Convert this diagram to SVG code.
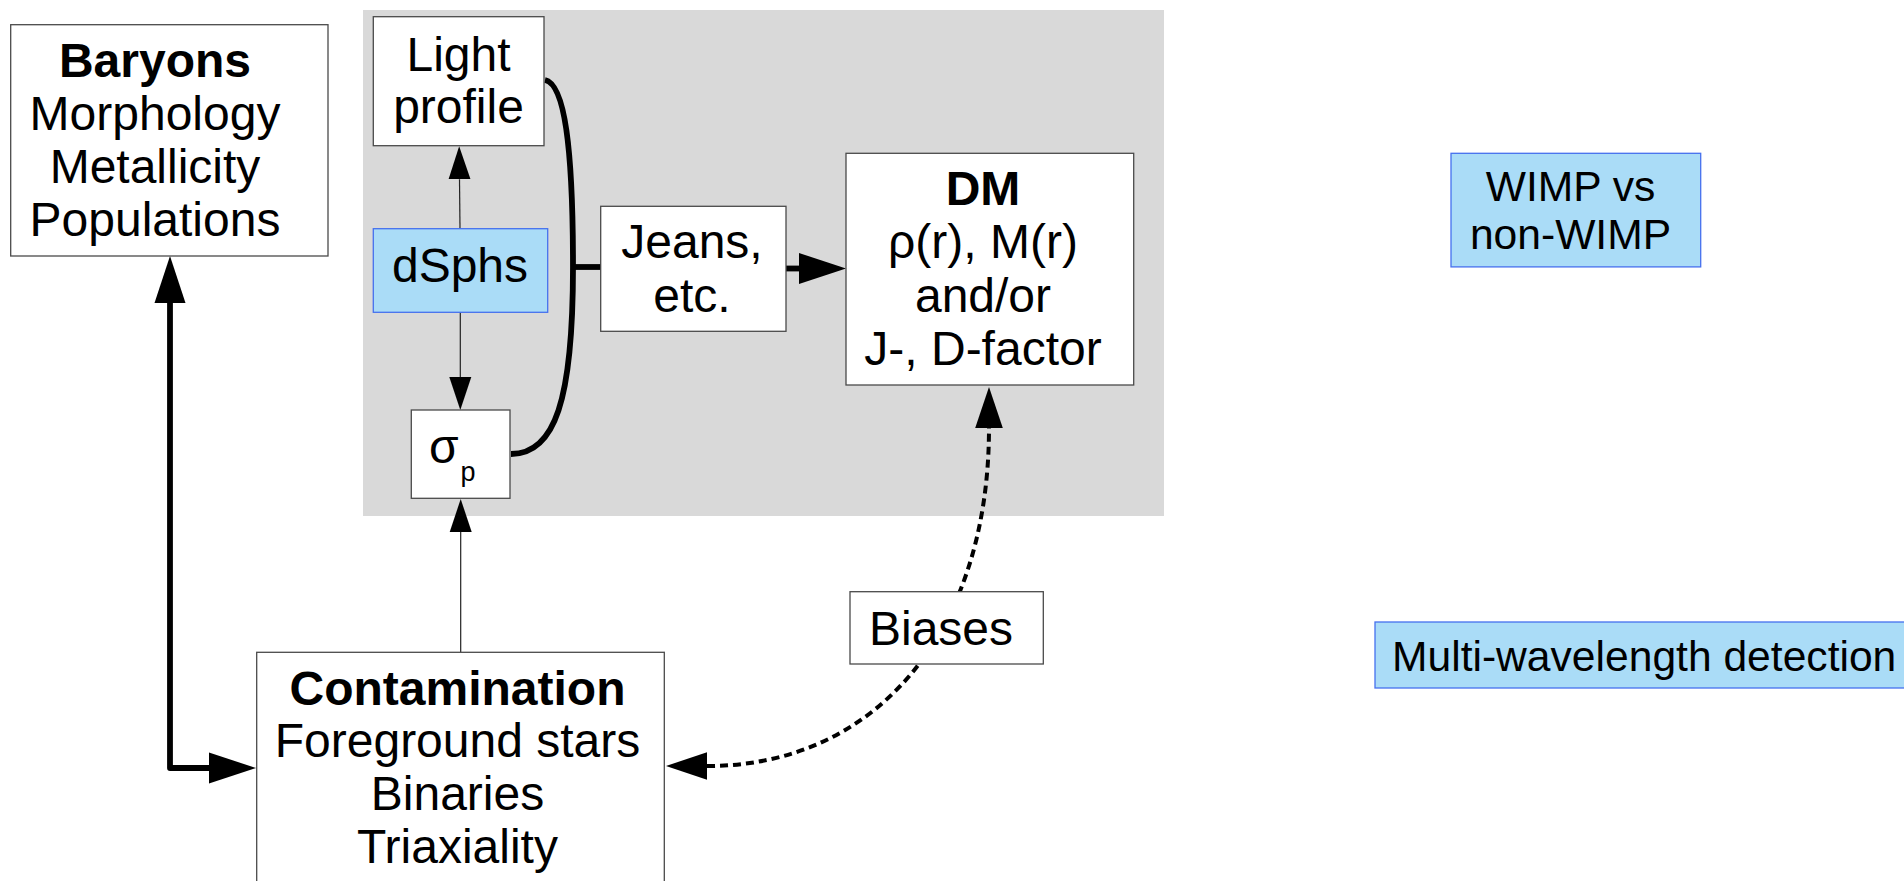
<svg xmlns="http://www.w3.org/2000/svg" width="1904" height="881" viewBox="0 0 1904 881">
<style>
  text { font-family: "Liberation Sans", Arial, sans-serif; fill: #000; }
  .t { font-size: 48px; text-anchor: middle; }
  .b { font-weight: bold; }
  .t42 { font-size: 42.6px; }
  .box { fill: #fff; stroke: #4a4a4a; stroke-width: 1.3; }
  .blue { fill: #aadcf7; stroke: #4670ee; stroke-width: 1.3; }
  .thin { fill: none; stroke: #222; stroke-width: 1.2; }
  .thick { fill: none; stroke: #000; stroke-width: 5.8; }
  .dash { fill: none; stroke: #000; stroke-width: 4; stroke-dasharray: 8 5; }
</style>
<defs>
  <marker id="aThin" markerUnits="userSpaceOnUse" viewBox="0 -15 40 30" markerWidth="40" markerHeight="30" refX="0" refY="0" orient="auto-start-reverse">
    <path d="M0,-11 L33,0 L0,11 z" fill="#000"/>
  </marker>
  <marker id="aThick" markerUnits="userSpaceOnUse" viewBox="0 -20 50 40" markerWidth="50" markerHeight="40" refX="0" refY="0" orient="auto-start-reverse">
    <path d="M0,-15.5 L47,0 L0,15.5 z" fill="#000"/>
  </marker>
  <marker id="aDash" markerUnits="userSpaceOnUse" viewBox="0 -15 45 30" markerWidth="45" markerHeight="30" refX="0" refY="0" orient="auto-start-reverse">
    <path d="M0,-13.8 L41,0 L0,13.8 z" fill="#000"/>
  </marker>
</defs>

<rect id="panel" x="363" y="10" width="801" height="506" fill="#d9d9d9"/>

<g id="connectors">
  <path class="thin" d="M460,228.7 L459.5,179.3" marker-end="url(#aThin)"/>
  <path class="thin" d="M460.3,312.3 L460.3,377" marker-end="url(#aThin)"/>
  <path class="thin" d="M460.7,652.3 L460.7,532" marker-end="url(#aThin)"/>
  <path class="thick" d="M545,80 C565,84 573,150 573,267 C573,400 555,454 511,454"/>
  <path class="thick" d="M573,267 L601,267"/>
  <path class="thick" d="M786,268.5 L799,268.5" marker-end="url(#aThick)"/>
  <path class="thick" d="M170,303 L170,768 L209,768" stroke-width="6" stroke-linejoin="round" marker-start="url(#aThick)" marker-end="url(#aThick)"/>
  <path class="dash" d="M707,766 C877,766 989,631 989,428" marker-start="url(#aDash)" marker-end="url(#aDash)"/>
</g>

<g id="baryons">
  <rect class="box" x="10.7" y="24.7" width="317.3" height="231.3"/>
  <text class="t b" x="155" y="77">Baryons</text>
  <text class="t" x="155" y="130">Morphology</text>
  <text class="t" x="155" y="183">Metallicity</text>
  <text class="t" x="155" y="236">Populations</text>
</g>

<g id="light-profile">
  <rect class="box" x="373.3" y="16.7" width="170.7" height="129"/>
  <text class="t" x="458.5" y="70.7">Light</text>
  <text class="t" x="458.5" y="122.7">profile</text>
</g>

<g id="dsphs">
  <rect class="blue" x="373.3" y="228.7" width="174.4" height="83.6"/>
  <text class="t" x="460" y="281.7">dSphs</text>
</g>

<g id="sigma-p">
  <rect class="box" x="411.3" y="410" width="98.7" height="88.3"/>
  <text x="429" y="462.7" font-size="48">σ</text>
  <text x="460.5" y="481" font-size="27">p</text>
</g>

<g id="jeans">
  <rect class="box" x="600.7" y="206.3" width="185.3" height="125"/>
  <text class="t" x="692" y="258.3">Jeans,</text>
  <text class="t" x="692" y="311.7">etc.</text>
</g>

<g id="dm">
  <rect class="box" x="846" y="153.3" width="287.7" height="231.7"/>
  <text class="t b" x="983" y="205">DM</text>
  <text class="t" x="983" y="257.5">ρ(r), M(r)</text>
  <text class="t" x="983" y="311.5">and/or</text>
  <text class="t" x="983" y="365">J-, D-factor</text>
</g>

<g id="biases">
  <rect class="box" x="850" y="591.7" width="193.3" height="72.3"/>
  <text class="t" x="941" y="645">Biases</text>
</g>

<g id="contamination">
  <rect class="box" x="256.7" y="652.3" width="407.6" height="240"/>
  <text class="t b" x="457.5" y="705">Contamination</text>
  <text class="t" x="457.5" y="757.3">Foreground stars</text>
  <text class="t" x="457.5" y="810">Binaries</text>
  <text class="t" x="457.5" y="863.3">Triaxiality</text>
</g>

<g id="wimp">
  <rect class="blue" x="1451" y="153.3" width="249.7" height="113.6"/>
  <text class="t42" x="1570.5" y="201" text-anchor="middle">WIMP vs</text>
  <text class="t42" x="1570.5" y="249" text-anchor="middle">non-WIMP</text>
</g>

<g id="multi-wavelength">
  <rect class="blue" x="1375" y="622" width="540" height="66"/>
  <text class="t42" x="1392" y="671">Multi-wavelength detection</text>
</g>
</svg>
